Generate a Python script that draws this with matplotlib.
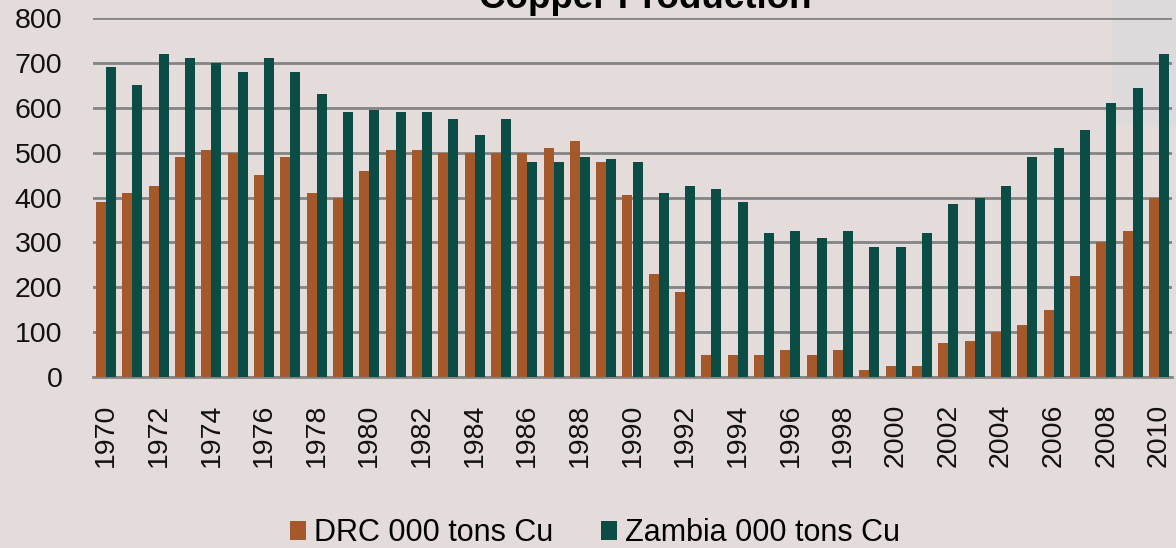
import numpy as np
import matplotlib
matplotlib.use("Agg")
from matplotlib import pyplot as plt
from matplotlib.patches import Rectangle

years = list(range(1970, 2011))
drc = [390, 410, 425, 490, 505, 500, 450, 490, 410, 400,
       460, 505, 505, 500, 500, 500, 500, 510, 525, 480,
       405, 230, 190, 50, 50, 50, 60, 50, 60, 15,
       25, 25, 75, 80, 100, 115, 150, 225, 300, 325,
       400]
zambia = [690, 650, 720, 710, 700, 680, 710, 680, 630, 590,
          595, 590, 590, 575, 540, 575, 480, 480, 490, 485,
          480, 410, 425, 420, 390, 320, 325, 310, 325, 290,
          290, 320, 385, 400, 425, 490, 510, 550, 610, 645,
          720]
yticks = list(range(0, 801, 100))

plt.rcParams['font.family'] = ['Liberation Sans', 'DejaVu Sans']
bg = '#e3dcda'

fig = plt.figure(figsize=(11.76, 5.48), dpi=100, facecolor=bg)
# light grey patch in the top right corner
fig.patches.append(Rectangle((1112 / 1176, 1 - 125 / 548), 64 / 1176, 125 / 548,
                             transform=fig.transFigure, facecolor='#dcdada',
                             edgecolor='none', zorder=0))

ax = fig.add_axes([93 / 1176, 1 - 377 / 548, (1172 - 93) / 1176, (377 - 18) / 548])
ax.set_zorder(2)
ax.patch.set_alpha(0)

x = np.arange(len(years))
w = 0.38
ax.bar(x - w / 2, drc, width=w, color='#a5582a', label='DRC 000 tons Cu', zorder=3)
ax.bar(x + w / 2, zambia, width=w, color='#0b4d44', label='Zambia 000 tons Cu', zorder=3)

ax.set_xlim(-0.5, len(years) - 0.5)
ax.set_ylim(0, 800)
ax.set_yticks(yticks)
ax.set_yticklabels([str(v) for v in yticks], fontsize=20.5, color='#111111')
ax.set_xticks(x[::2])
ax.set_xticklabels([str(y) for y in years[::2]], rotation=90, fontsize=20.5, color='#111111')
ax.tick_params(axis='both', length=0)
ax.tick_params(axis='y', pad=22)
ax.tick_params(axis='x', pad=19)
ax.yaxis.grid(True, color='#848484', linewidth=2, zorder=1)
for s in ['left', 'right', 'top']:
    ax.spines[s].set_visible(False)
ax.spines['bottom'].set_color('#848484')
ax.spines['bottom'].set_linewidth(2)

fig.text(645 / 1176, 1 - 8 / 548, 'Copper Production', ha='center', va='baseline',
         fontsize=26.5, fontweight='bold', color='black')

leg = fig.legend(loc='center', bbox_to_anchor=(595 / 1176, 1 - 533 / 548), ncol=2,
                 frameon=False, fontsize=22, handlelength=0.52, handleheight=0.6,
                 handletextpad=0.26, columnspacing=1.55, borderpad=0)

fig.savefig('out.png', dpi=100, facecolor=bg)
